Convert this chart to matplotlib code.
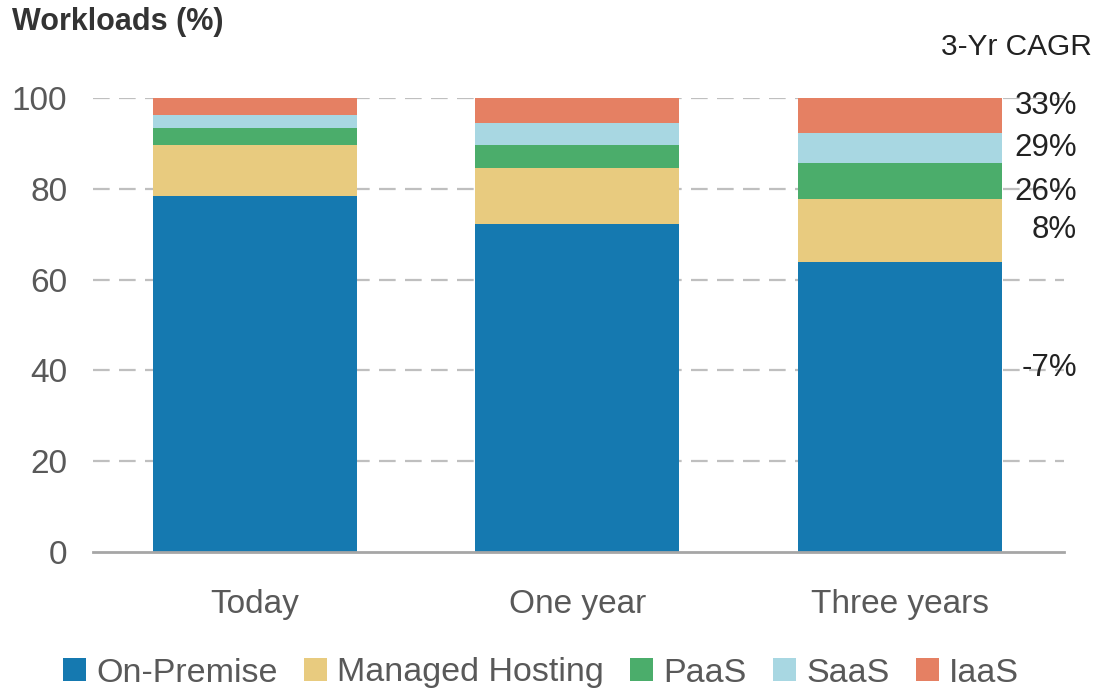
import matplotlib
matplotlib.use("Agg")
import matplotlib.pyplot as plt
import numpy as np

plt.rcParams['font.family'] = ['Liberation Sans', 'DejaVu Sans']

categories = ["Today", "One year", "Three years"]
series_names = ["On-Premise", "Managed Hosting", "PaaS", "SaaS", "IaaS"]
on_premise = [78.4, 72.2, 63.8]
managed_hosting = [11.2, 12.4, 14.0]
paas = [3.9, 5.0, 7.9]
saas = [2.8, 5.0, 6.6]
iaas = [3.7, 5.4, 7.7]
cagr_labels = ["33%", "29%", "26%", "8%", "-7%"]
cagr_label_y = [98.2, 89.0, 79.4, 71.0, 40.6]  # label placement (layout)

colors = ["#1579B0", "#E8CB7F", "#4BAD6B", "#A8D7E2", "#E58063"]
series = [on_premise, managed_hosting, paas, saas, iaas]

fig = plt.figure(figsize=(10.95, 6.9), dpi=100)
ax = fig.add_axes([93/1095, 1 - 552/690, (1064-93)/1095, (552-98)/690])

x = np.arange(len(categories))
bottom = np.zeros(len(categories))
for name, vals, c in zip(series_names, series, colors):
    ax.bar(x, vals, width=0.633, bottom=bottom, color=c, label=name, zorder=3, linewidth=0)
    bottom += np.array(vals)

ax.set_xlim(-0.502, 2.509)
ax.set_ylim(0, 100)
ax.set_yticks([0, 20, 40, 60, 80, 100])
for yv in [20, 40, 60, 80, 100]:
    ax.axhline(yv, color="#BFBFBF", lw=1.6, linestyle=(0, (7.5, 4.2)), zorder=1)

for s in ["top", "right", "left"]:
    ax.spines[s].set_visible(False)
ax.spines["bottom"].set_color("#A6A6A6")
ax.spines["bottom"].set_linewidth(2)
ax.spines["bottom"].set_zorder(4)

ax.set_xticks(x)
ax.set_xticklabels(categories)
ax.tick_params(axis="both", length=0, labelsize=24, labelcolor="#595959")
ax.tick_params(axis="y", pad=18.5)
ax.tick_params(axis="x", pad=27)

fig.text(12/1095, 1 - 22/690, "Workloads (%)", fontsize=22, fontweight="bold",
         color="#333333", ha="left", va="center")
fig.text(1092/1095, 1 - 47/690, "3-Yr CAGR", fontsize=21.5, color="#222222",
         ha="right", va="center")
for lab, yv in zip(cagr_labels, cagr_label_y):
    ax.annotate(lab, xy=(1077/1095, yv), xycoords=("figure fraction", "data"),
                ha="right", va="center", fontsize=22.5, color="#222222",
                annotation_clip=False)

handles, labels = ax.get_legend_handles_labels()
fig.legend(handles, labels, loc="center", bbox_to_anchor=(541/1095, 1 - 673/690),
           ncol=5, frameon=False, fontsize=24.5, handlelength=0.68, handleheight=0.68,
           handletextpad=0.3, columnspacing=0.77, labelcolor="#595959",
           borderpad=0, borderaxespad=0)

fig.savefig("out.png", dpi=100)
